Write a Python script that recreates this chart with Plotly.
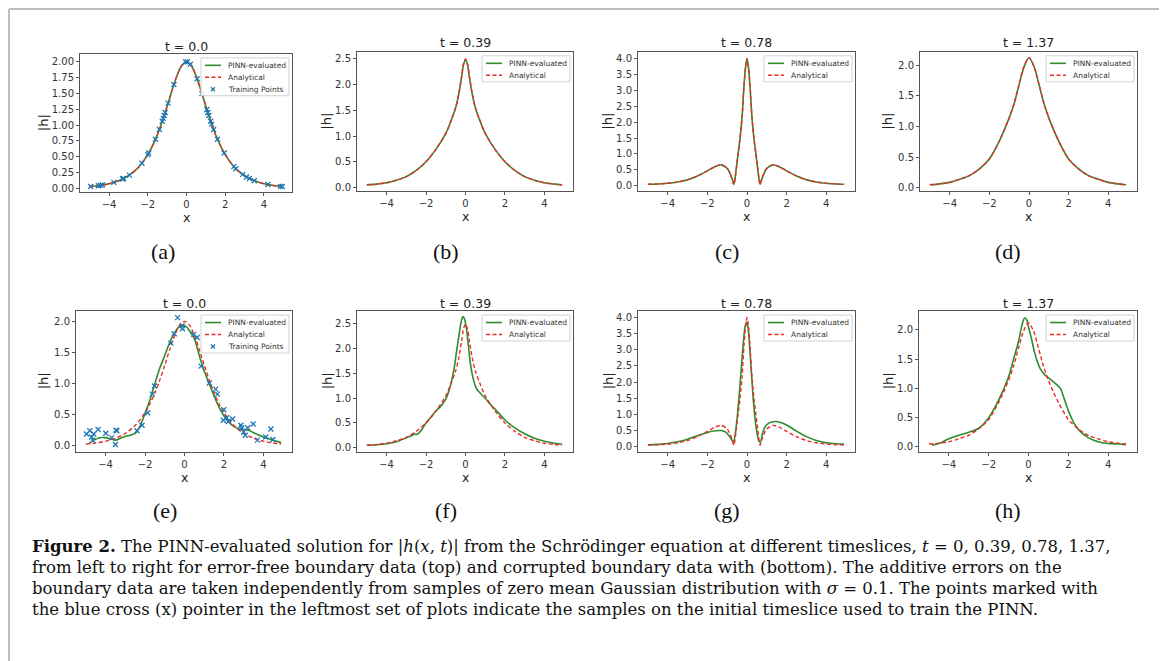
import plotly.graph_objects as go

W, H = 1167, 661
OFF = 8  # the page body has an 8px margin; positions below are page pixels

# ---------------------------------------------------------------- data
x_tick_vals = [-4, -2, 0, 2, 4]
x_tick_text = ["\u22124", "\u22122", "0", "2", "4"]

y_ticks_a = [0.0, 0.25, 0.5, 0.75, 1.0, 1.25, 1.5, 1.75, 2.0]
y_ticks_a_text = ["0.00", "0.25", "0.50", "0.75", "1.00", "1.25", "1.50", "1.75", "2.00"]
y_ticks_2 = [0.0, 0.5, 1.0, 1.5, 2.0]
y_ticks_2_text = ["0.0", "0.5", "1.0", "1.5", "2.0"]
y_ticks_25 = [0.0, 0.5, 1.0, 1.5, 2.0, 2.5]
y_ticks_25_text = ["0.0", "0.5", "1.0", "1.5", "2.0", "2.5"]
y_ticks_4 = [0.0, 0.5, 1.0, 1.5, 2.0, 2.5, 3.0, 3.5, 4.0]
y_ticks_4_text = ["0.0", "0.5", "1.0", "1.5", "2.0", "2.5", "3.0", "3.5", "4.0"]

titles = ["t = 0.0", "t = 0.39", "t = 0.78", "t = 1.37",
          "t = 0.0", "t = 0.39", "t = 0.78", "t = 1.37"]
sub_labels = ["(a)", "(b)", "(c)", "(d)", "(e)", "(f)", "(g)", "(h)"]
legend_names = ["PINN-evaluated", "Analytical", "Training Points"]

# t = 0.0 (analytical, also PINN for clean data)
x_t000 = [-5.0, -4.5, -4.0, -3.5, -3.0, -2.5, -2.0, -1.75, -1.5, -1.25, -1.0, -0.75, -0.5, -0.25, 0.0,
          0.25, 0.5, 0.75, 1.0, 1.25, 1.5, 1.75, 2.0, 2.5, 3.0, 3.5, 4.0, 4.5, 4.9]
h_t000_analytical = [0.027, 0.044, 0.073, 0.121, 0.199, 0.326, 0.532, 0.675, 0.850, 1.059, 1.296, 1.545, 1.774, 1.939, 2.0,
                     1.939, 1.774, 1.545, 1.296, 1.059, 0.850, 0.675, 0.532, 0.326, 0.199, 0.121, 0.073, 0.044, 0.030]
h_t000_pinn_clean = [0.028, 0.045, 0.073, 0.121, 0.199, 0.326, 0.532, 0.675, 0.850, 1.060, 1.296, 1.545, 1.772, 1.937, 1.998,
                     1.938, 1.773, 1.545, 1.296, 1.059, 0.850, 0.675, 0.532, 0.326, 0.199, 0.121, 0.073, 0.045, 0.031]

# t = 0.39
x_t039 = [-5.0, -4.5, -4.0, -3.5, -3.0, -2.5, -2.0, -1.5, -1.0, -0.75, -0.5, -0.35, -0.2, -0.1, 0.0,
          0.1, 0.2, 0.35, 0.5, 0.75, 1.0, 1.5, 2.0, 2.5, 3.0, 3.5, 4.0, 4.5, 4.9]
h_t039_analytical = [0.05, 0.065, 0.09, 0.14, 0.21, 0.33, 0.50, 0.74, 1.05, 1.28, 1.55, 1.80, 2.15, 2.40, 2.50,
                     2.40, 2.15, 1.80, 1.55, 1.28, 1.05, 0.74, 0.50, 0.33, 0.21, 0.14, 0.09, 0.065, 0.05]
h_t039_pinn_clean = [0.05, 0.065, 0.09, 0.14, 0.21, 0.33, 0.50, 0.74, 1.05, 1.28, 1.55, 1.80, 2.14, 2.39, 2.48,
                     2.39, 2.14, 1.80, 1.55, 1.28, 1.05, 0.74, 0.50, 0.33, 0.21, 0.14, 0.09, 0.065, 0.05]

# t = 0.78
x_t078 = [-5.0, -4.5, -4.0, -3.5, -3.0, -2.5, -2.0, -1.6, -1.3, -1.0, -0.85, -0.75, -0.66, -0.55, -0.45,
          -0.35, -0.25, -0.15, -0.07, 0.0, 0.07, 0.15, 0.25, 0.35, 0.45, 0.55, 0.66, 0.75, 0.85, 1.0,
          1.3, 1.6, 2.0, 2.5, 3.0, 3.5, 4.0, 4.5, 4.9]
h_t078_analytical = [0.05, 0.06, 0.08, 0.12, 0.19, 0.31, 0.47, 0.61, 0.66, 0.55, 0.38, 0.22, 0.04, 0.50, 1.00,
                     1.50, 2.15, 3.15, 3.75, 4.00, 3.75, 3.15, 2.15, 1.50, 1.00, 0.50, 0.04, 0.22, 0.38, 0.55,
                     0.66, 0.61, 0.47, 0.31, 0.19, 0.12, 0.08, 0.06, 0.05]
h_t078_pinn_clean = [0.05, 0.06, 0.08, 0.12, 0.19, 0.31, 0.47, 0.61, 0.66, 0.55, 0.38, 0.22, 0.05, 0.50, 1.00,
                     1.50, 2.15, 3.15, 3.74, 3.98, 3.74, 3.15, 2.15, 1.50, 1.00, 0.50, 0.05, 0.22, 0.38, 0.55,
                     0.66, 0.61, 0.47, 0.31, 0.19, 0.12, 0.08, 0.06, 0.05]

# t = 1.37
x_t137 = [-5.0, -4.5, -4.0, -3.5, -3.0, -2.5, -2.0, -1.5, -1.25, -1.0, -0.75, -0.5, -0.25, 0.0,
          0.25, 0.5, 0.75, 1.0, 1.25, 1.5, 2.0, 2.5, 3.0, 3.5, 4.0, 4.5, 4.9]
h_t137_analytical = [0.05, 0.065, 0.09, 0.14, 0.20, 0.31, 0.47, 0.76, 0.94, 1.14, 1.38, 1.69, 1.98, 2.12,
                     1.98, 1.69, 1.38, 1.14, 0.94, 0.76, 0.47, 0.31, 0.20, 0.14, 0.09, 0.065, 0.05]
h_t137_pinn_clean = [0.05, 0.065, 0.09, 0.14, 0.20, 0.31, 0.47, 0.76, 0.94, 1.14, 1.37, 1.68, 1.97, 2.12,
                     1.98, 1.69, 1.38, 1.14, 0.94, 0.76, 0.47, 0.31, 0.20, 0.14, 0.09, 0.065, 0.05]

# PINN with corrupted boundary data
x_e_pinn = [-4.85, -4.6, -4.3, -4.0, -3.75, -3.5, -3.25, -3.0, -2.75, -2.5, -2.25, -2.0, -1.75, -1.5, -1.25,
            -1.0, -0.75, -0.5, -0.25, -0.1, 0.1, 0.25, 0.5, 0.75, 1.0, 1.25, 1.5, 1.75, 2.0, 2.25,
            2.5, 2.75, 3.0, 3.25, 3.5, 4.0, 4.5, 4.9]
h_e_pinn = [0.03, 0.09, 0.13, 0.13, 0.11, 0.09, 0.12, 0.15, 0.17, 0.20, 0.32, 0.52, 0.74, 1.00, 1.25,
            1.45, 1.66, 1.82, 1.92, 1.94, 1.91, 1.85, 1.72, 1.45, 1.20, 1.00, 0.80, 0.62, 0.48, 0.38,
            0.31, 0.27, 0.26, 0.25, 0.21, 0.14, 0.09, 0.05]

x_f_pinn = [-5.0, -4.5, -4.0, -3.5, -3.0, -2.75, -2.6, -2.45, -2.25, -2.0, -1.75, -1.5, -1.25, -1.0, -0.8,
            -0.6, -0.45, -0.3, -0.2, -0.12, -0.05, 0.05, 0.15, 0.25, 0.4, 0.55, 0.75, 1.0, 1.25, 1.5,
            2.0, 2.5, 3.0, 3.5, 4.0, 4.5, 4.9]
h_f_pinn = [0.05, 0.06, 0.08, 0.12, 0.20, 0.24, 0.27, 0.27, 0.35, 0.50, 0.62, 0.74, 0.84, 0.98, 1.20,
            1.55, 1.95, 2.35, 2.58, 2.65, 2.60, 2.40, 2.05, 1.70, 1.38, 1.20, 1.10, 1.00, 0.88, 0.78,
            0.56, 0.40, 0.28, 0.19, 0.13, 0.09, 0.07]

x_g_pinn = [-5.0, -4.5, -4.0, -3.5, -3.0, -2.5, -2.0, -1.6, -1.3, -1.05, -0.9, -0.78, -0.68, -0.58, -0.48,
            -0.38, -0.28, -0.18, -0.1, -0.03, 0.05, 0.12, 0.2, 0.3, 0.4, 0.5, 0.6, 0.68, 0.78, 0.9,
            1.1, 1.4, 1.7, 2.0, 2.5, 3.0, 3.5, 4.0, 4.5, 4.9]
h_g_pinn = [0.06, 0.07, 0.10, 0.15, 0.23, 0.34, 0.44, 0.49, 0.50, 0.44, 0.33, 0.22, 0.16, 0.45, 1.00,
            1.70, 2.50, 3.25, 3.70, 3.85, 3.70, 3.20, 2.50, 1.60, 0.90, 0.45, 0.18, 0.14, 0.40, 0.60,
            0.73, 0.78, 0.75, 0.67, 0.48, 0.31, 0.19, 0.12, 0.09, 0.08]

x_h_pinn = [-4.85, -4.5, -4.0, -3.5, -3.0, -2.5, -2.0, -1.5, -1.0, -0.75, -0.5, -0.35, -0.2, -0.1, 0.0,
            0.15, 0.3, 0.45, 0.6, 0.8, 1.0, 1.2, 1.4, 1.6, 1.8, 2.0, 2.25, 2.5, 3.0, 3.5,
            4.0, 4.5, 4.9]
h_h_pinn = [0.03, 0.06, 0.14, 0.20, 0.25, 0.32, 0.50, 0.80, 1.20, 1.50, 1.80, 2.05, 2.20, 2.18, 2.05,
            1.85, 1.62, 1.45, 1.33, 1.24, 1.18, 1.13, 1.07, 1.00, 0.82, 0.62, 0.43, 0.30, 0.16, 0.09,
            0.06, 0.05, 0.04]

# training points on the initial timeslice
x_train_clean = [-4.95, -4.55, -4.45, -4.35, -3.75, -3.3, -3.25, -2.95, -2.3, -2.0, -1.95, -1.6, -1.4, -1.25,
                 -1.2, -1.15, -1.1, -0.95, -0.65, -0.05, 0.05, 0.2, 0.55, 0.8, 1.05, 1.1, 1.15, 1.25, 1.3,
                 1.4, 1.6, 1.95, 2.45, 2.55, 2.9, 3.1, 3.25, 3.5, 4.2, 4.85, 4.95]
h_train_clean = [0.028, 0.042, 0.047, 0.052, 0.094, 0.147, 0.155, 0.209, 0.397, 0.532, 0.558, 0.776, 0.930, 1.059,
                 1.105, 1.151, 1.199, 1.346, 1.641, 1.998, 1.998, 1.961, 1.731, 1.496, 1.247, 1.199, 1.151, 1.059, 1.015,
                 0.930, 0.776, 0.558, 0.343, 0.310, 0.220, 0.180, 0.155, 0.121, 0.060, 0.031, 0.028]

x_train_noisy = [-4.97, -4.8, -4.71, -4.65, -4.6, -4.38, -3.99, -3.69, -3.47, -3.43, -3.5, -2.41, -2.15, -1.87,
                 -1.63, -1.52, -0.69, -0.52, -0.35, -0.12, -0.1, 0.47, 0.64, 0.84, 1.26, 1.58, 1.67, 1.99,
                 1.97, 2.14, 2.22, 2.44, 2.86, 2.9, 3.0, 3.08, 3.2, 3.48, 3.7, 4.12, 4.38, 4.48]
h_train_noisy = [0.19, 0.24, 0.14, 0.09, 0.19, 0.26, 0.20, 0.13, 0.25, 0.24, 0.02, 0.24, 0.33, 0.53,
                 0.83, 0.96, 1.65, 1.80, 2.06, 1.93, 1.88, 1.79, 1.74, 1.28, 1.01, 0.91, 0.83, 0.58,
                 0.41, 0.45, 0.39, 0.43, 0.33, 0.29, 0.22, 0.17, 0.29, 0.35, 0.09, 0.14, 0.27, 0.10]

# ---------------------------------------------------------------- layout helpers
GREEN = "#2e8b2e"
RED = "#ee2a2a"
BLUE = "#1f77b4"
AX_COL = "#555555"
FONT = "DejaVu Sans"
DASH = "4px,2.5px"


def fx(px):
    return (px - OFF) / W


def fy(py):
    return 1 - (py - OFF) / H


# (left, right, top, bottom) page pixels of each axes box
panels = [
    dict(box=(80, 292, 54, 193), yr=(-0.065, 2.125), yt=(y_ticks_a, y_ticks_a_text), ylab=43, sub=(163, 252), ttl=47),
    dict(box=(357, 573, 52, 192), yr=(-0.078, 2.636), yt=(y_ticks_25, y_ticks_25_text), ylab=327, sub=(446, 252), ttl=43),
    dict(box=(638, 855, 52, 192), yr=(-0.175, 4.205), yt=(y_ticks_4, y_ticks_4_text), ylab=608, sub=(727, 252), ttl=43),
    dict(box=(920, 1137, 52, 192), yr=(-0.058, 2.215), yt=(y_ticks_2, y_ticks_2_text), ylab=888, sub=(1008, 252), ttl=43),
    dict(box=(76, 292, 312, 453), yr=(-0.095, 2.165), yt=(y_ticks_2, y_ticks_2_text), ylab=43, sub=(165, 512), ttl=304),
    dict(box=(357, 573, 312, 453), yr=(-0.08, 2.76), yt=(y_ticks_25, y_ticks_25_text), ylab=327, sub=(446, 512), ttl=304),
    dict(box=(638, 855, 312, 453), yr=(-0.155, 4.2), yt=(y_ticks_4, y_ticks_4_text), ylab=608, sub=(727, 512), ttl=304),
    dict(box=(919, 1137, 312, 453), yr=(-0.08, 2.32), yt=(y_ticks_2, y_ticks_2_text), ylab=888, sub=(1008, 512), ttl=304),
]

series = [
    (x_t000, h_t000_pinn_clean, x_t000, h_t000_analytical, (x_train_clean, h_train_clean)),
    (x_t039, h_t039_pinn_clean, x_t039, h_t039_analytical, None),
    (x_t078, h_t078_pinn_clean, x_t078, h_t078_analytical, None),
    (x_t137, h_t137_pinn_clean, x_t137, h_t137_analytical, None),
    (x_e_pinn, h_e_pinn, x_t000, h_t000_analytical, (x_train_noisy, h_train_noisy)),
    (x_f_pinn, h_f_pinn, x_t039, h_t039_analytical, None),
    (x_g_pinn, h_g_pinn, x_t078, h_t078_analytical, None),
    (x_h_pinn, h_h_pinn, x_t137, h_t137_analytical, None),
]

fig = go.Figure()
annotations = []
shapes = []
layout = dict(
    width=W, height=H,
    margin=dict(l=0, r=0, t=0, b=0),
    paper_bgcolor="white", plot_bgcolor="white",
    font=dict(family=FONT, color="#2b2b2b"),
    showlegend=False,
)


def line_shape(x0, y0, x1, y1, color, width, dash="solid"):
    return dict(type="line", xref="paper", yref="paper", layer="above",
                x0=fx(x0), y0=fy(y0), x1=fx(x1), y1=fy(y1),
                line=dict(color=color, width=width, dash=dash))


for i, (p, s) in enumerate(zip(panels, series)):
    n = i + 1
    xa = "x" if n == 1 else f"x{n}"
    ya = "y" if n == 1 else f"y{n}"
    l, r, t, b = p["box"]
    xp, yp, xa_, ya_, tr = s
    fig.add_trace(go.Scatter(x=xp, y=yp, mode="lines", name=legend_names[0],
                             line=dict(color=GREEN, width=1.6, shape="spline", smoothing=0.8),
                             xaxis=xa, yaxis=ya))
    fig.add_trace(go.Scatter(x=xa_, y=ya_, mode="lines", name=legend_names[1],
                             line=dict(color=RED, width=1.4, dash=DASH, shape="spline", smoothing=0.8),
                             xaxis=xa, yaxis=ya))
    if tr is not None:
        fig.add_trace(go.Scatter(x=tr[0], y=tr[1], mode="markers", name=legend_names[2],
                                 marker=dict(symbol="x-thin", size=5, color=BLUE,
                                             line=dict(color=BLUE, width=1.3)),
                                 xaxis=xa, yaxis=ya))
    common = dict(showgrid=False, zeroline=False, showline=True, mirror=True,
                  linecolor=AX_COL, linewidth=1, ticks="outside", ticklen=3,
                  tickcolor=AX_COL, tickwidth=1,
                  tickfont=dict(family=FONT, size=10, color="#333333"))
    layout["xaxis" if n == 1 else f"xaxis{n}"] = dict(
        domain=[fx(l), fx(r)], range=[-5.5, 5.45], anchor=ya,
        tickmode="array", tickvals=x_tick_vals, ticktext=x_tick_text, **common)
    layout["yaxis" if n == 1 else f"yaxis{n}"] = dict(
        domain=[fy(b), fy(t)], range=list(p["yr"]), anchor=xa,
        tickmode="array", tickvals=p["yt"][0], ticktext=p["yt"][1], **common)

    # legend box (matplotlib-style, upper right)
    nrow = 3 if tr is not None else 2
    bl, br, bt = r - 91, r - 3, t + 4
    bb = bt + 2 + 12 * nrow
    shapes.append(dict(type="rect", xref="paper", yref="paper", layer="above",
                       x0=fx(bl), x1=fx(br), y0=fy(bt), y1=fy(bb),
                       fillcolor="rgba(255,255,255,0.85)", line=dict(color="#d2d2d2", width=1)))
    for k in range(nrow):
        ry = bt + 7.5 + 12 * k
        if k == 0:
            shapes.append(line_shape(bl + 4, ry, bl + 20, ry, GREEN, 1.6))
        elif k == 1:
            shapes.append(line_shape(bl + 4, ry, bl + 20, ry, RED, 1.4, DASH))
        else:
            shapes.append(line_shape(bl + 10, ry - 2, bl + 14, ry + 2, BLUE, 1.2))
            shapes.append(line_shape(bl + 10, ry + 2, bl + 14, ry - 2, BLUE, 1.2))
        annotations.append(dict(text=legend_names[k], x=fx(bl + 25), y=fy(ry), xref="paper", yref="paper",
                                showarrow=False, xanchor="left", yanchor="middle",
                                font=dict(family=FONT, size=7.5, color="#333333")))

    cx = (l + r) / 2
    annotations += [
        dict(text=titles[i], x=fx(cx), y=fy(p["ttl"]), xref="paper", yref="paper",
             showarrow=False, xanchor="center", yanchor="middle",
             font=dict(family=FONT, size=12.5, color="#222222")),
        dict(text="x", x=fx(cx), y=fy(b + 25.5), xref="paper", yref="paper",
             showarrow=False, xanchor="center", yanchor="middle",
             font=dict(family=FONT, size=12.5, color="#222222")),
        dict(text="|h|", x=fx(p["ylab"]), y=fy((t + b) / 2), xref="paper", yref="paper",
             showarrow=False, xanchor="center", yanchor="middle", textangle=-90,
             font=dict(family=FONT, size=13, color="#222222")),
        dict(text=sub_labels[i], x=fx(p["sub"][0]), y=fy(p["sub"][1]), xref="paper", yref="paper",
             showarrow=False, xanchor="center", yanchor="middle",
             font=dict(family="Liberation Serif", size=22, color="#111111")),
    ]

caption_lines = [
    "<b>Figure 2.</b> The PINN-evaluated solution for |<i>h</i>(<i>x</i>, <i>t</i>)| from the Schrödinger equation at different timeslices, <i>t</i> = 0, 0.39, 0.78, 1.37,",
    "from left to right for error-free boundary data (top) and corrupted boundary data with (bottom). The additive errors on the",
    "boundary data are taken independently from samples of zero mean Gaussian distribution with <i>σ</i> = 0.1. The points marked with",
    "the blue cross (x) pointer in the leftmost set of plots indicate the samples on the initial timeslice used to train the PINN.",
]
for k, line in enumerate(caption_lines):
    annotations.append(dict(
        text=line, x=fx(30), y=fy(548 + 21 * k), xref="paper", yref="paper",
        showarrow=False, xanchor="left", yanchor="middle", align="left",
        font=dict(family="DejaVu Serif", size=16.5, color="#111111")))

# light gray frame around the figure
FR = "#bdbdbd"
shapes += [
    line_shape(9, 9, 1162, 9, FR, 2),
    line_shape(9, 9, 9, 672, FR, 2),
    line_shape(1162, 9, 1162, 672, FR, 2),
]

layout["annotations"] = annotations
layout["shapes"] = shapes
fig.update_layout(**layout)
fig.write_html("out.html", config={"displayModeBar": False})
